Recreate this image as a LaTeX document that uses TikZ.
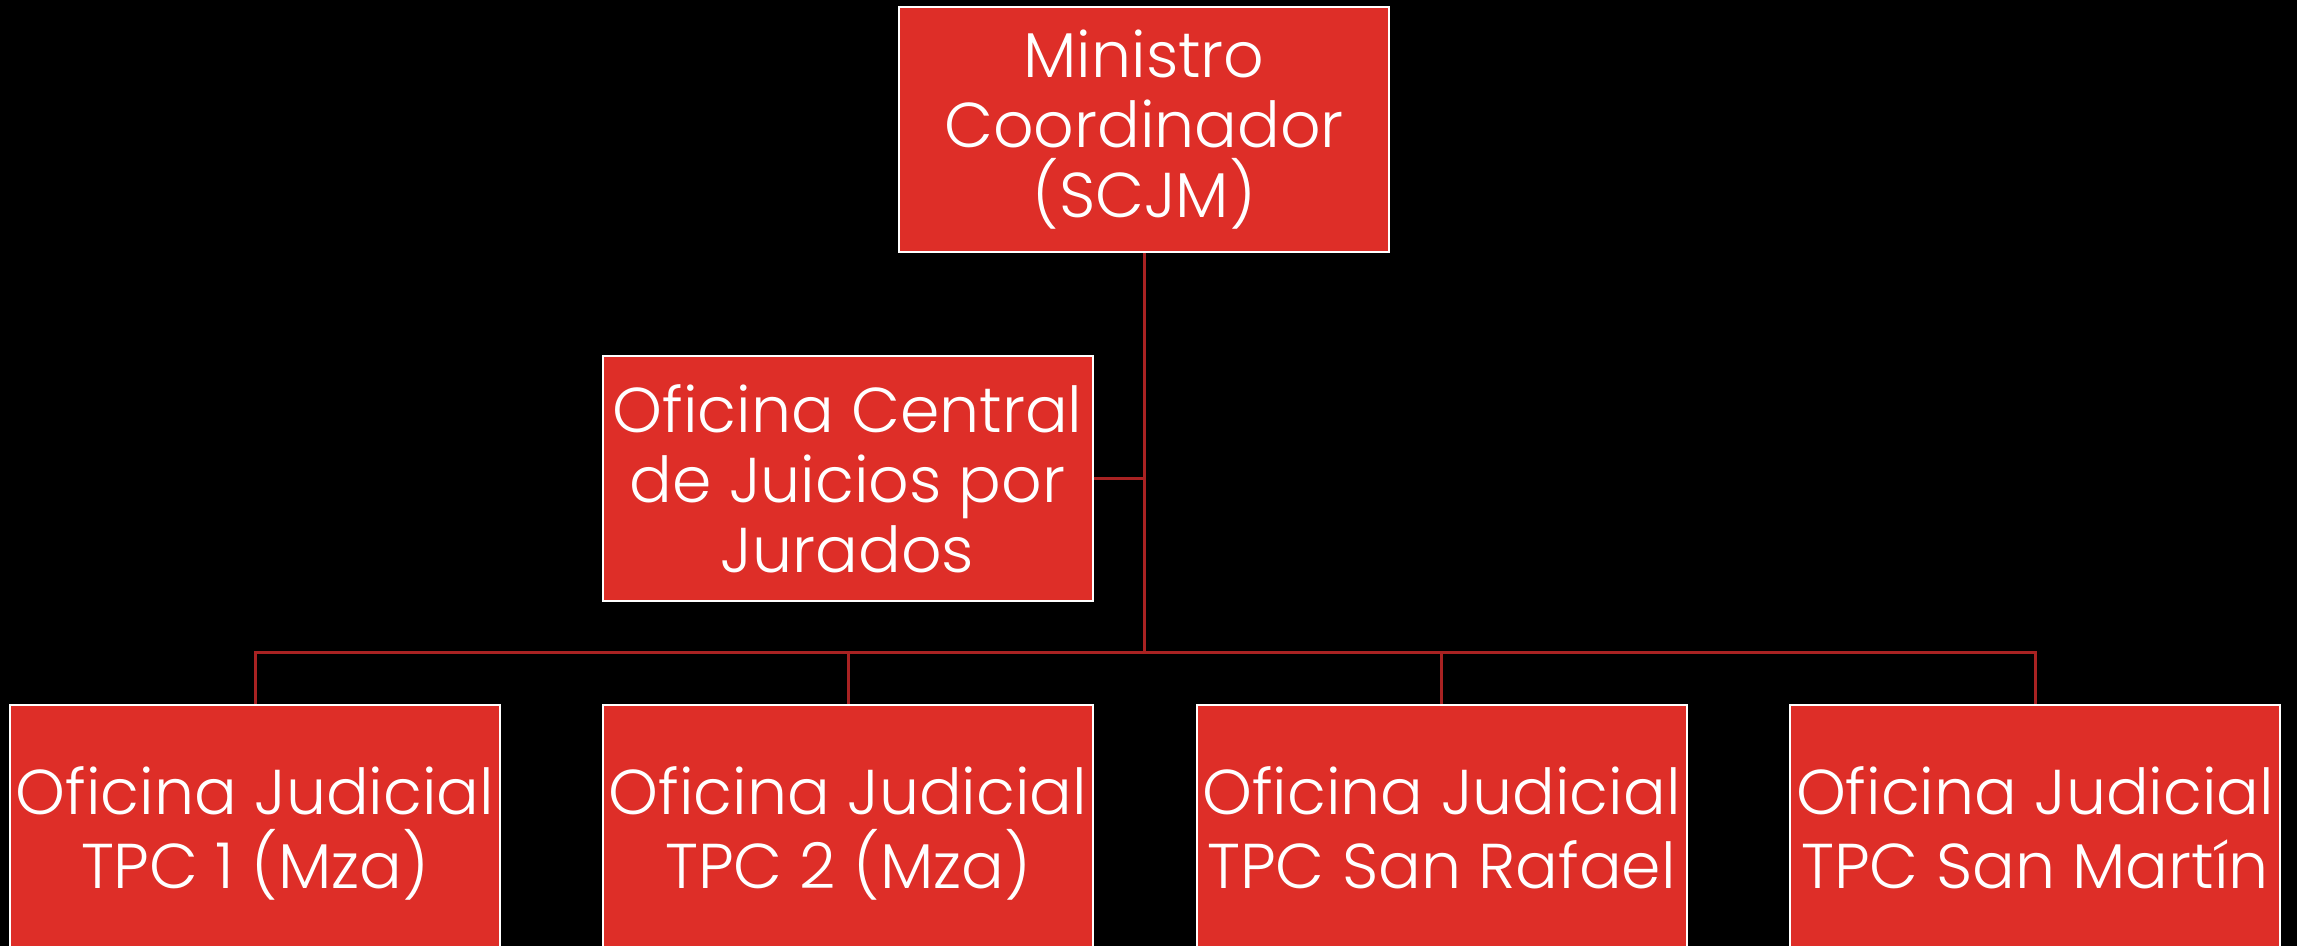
\documentclass[tikz,border=0pt]{standalone}
\usepackage{fontspec}
\setmainfont{Poppins Light}
\definecolor{boxred}{HTML}{DE2E28}
\definecolor{linered}{HTML}{A82222}
\newcommand{\eqln}{\vphantom{(Í}}
\begin{document}
\begin{tikzpicture}[x=0.3pt,y=-0.3pt,
  orgbox/.style={draw=white, line width=0.6pt, fill=boxred, text=white,
    minimum width=147pt, minimum height=73.5pt, inner sep=0pt, align=center,
    font=\fontsize{19}{21}\selectfont},
  link/.style={draw=linered, line width=0.9pt}]
\fill[black] (0,0) rectangle (2297,946);
\clip (0,0) rectangle (2297,946);
\useasboundingbox (0,0) rectangle (2297,946);
\node[orgbox] (top) at (1144,129.5) {Ministro\\Coordinador\\(SCJM)};
\node[orgbox] (mid) at (847.5,478.5) {Oficina Central\\de Juicios por\\Jurados};
\node[orgbox] (b1) at (255,827.5) {\eqln Oficina Judicial\\\eqln TPC 1 (Mza)};
\node[orgbox] (b2) at (848,827.5) {\eqln Oficina Judicial\\\eqln TPC 2 (Mza)};
\node[orgbox] (b3) at (1441.5,827.5) {\eqln Oficina Judicial\\\eqln TPC San Rafael};
\node[orgbox] (b4) at (2035,827.5) {\eqln Oficina Judicial\\\eqln TPC San Martín};
\coordinate (bus) at (1144,652);
\draw[link] (top.south) -- (bus);
\draw[link] (mid.east) -- (mid.east -| top.south);
\draw[link] (b1.north) |- (bus) -| (b4.north);
\draw[link] (b2.north) -- (b2.north |- bus);
\draw[link] (b3.north) -- (b3.north |- bus);
\end{tikzpicture}
\end{document}
